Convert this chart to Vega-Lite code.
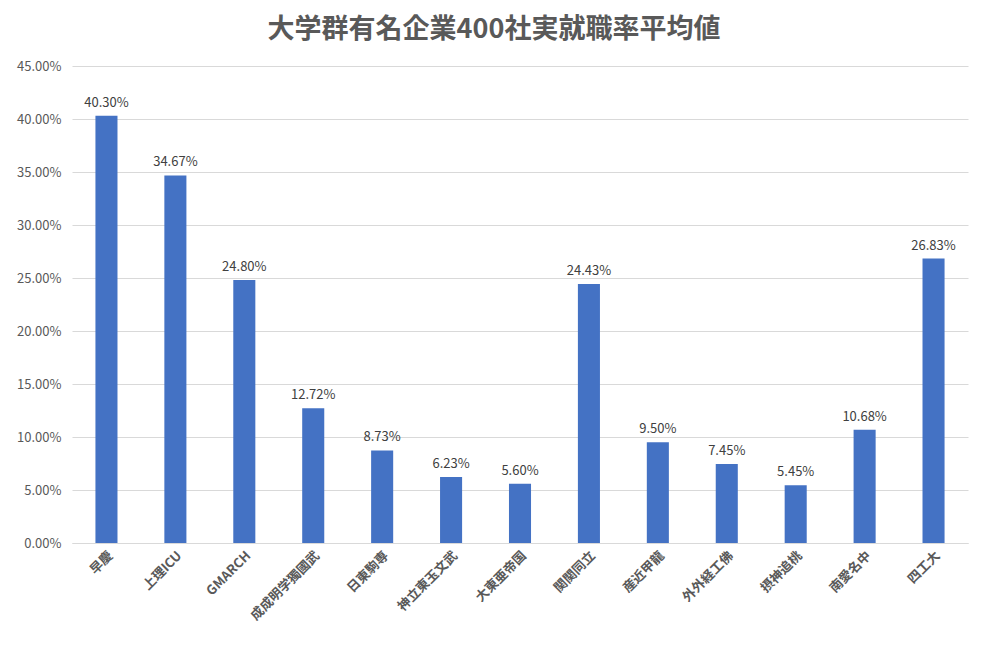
{
  "$schema": "https://vega.github.io/schema/vega-lite/v6.json",
  "autosize": {"type": "none"},
  "padding": {"left": 72, "top": 66, "right": 19, "bottom": 105},
  "width": 896,
  "height": 477,
  "background": "#ffffff",
  "title": {
    "text": "大学群有名企業400社実就職率平均値",
    "font": "Noto Sans CJK JP",
    "fontSize": 27,
    "fontWeight": "bold",
    "color": "#595959",
    "anchor": "middle",
    "dx": -26,
    "offset": 16
  },
  "config": {
    "font": "Noto Sans CJK JP",
    "view": {"stroke": null},
    "axisY": {
      "labelColor": "#595959",
      "labelFontSize": 13,
      "labelPadding": 11,
      "gridColor": "#d9d9d9",
      "domain": false,
      "ticks": false,
      "title": null
    },
    "axisX": {
      "labelColor": "#595959",
      "labelFontSize": 13,
      "labelFontWeight": "bold",
      "labelAngle": -45,
      "labelPadding": 6,
      "domainColor": "#d9d9d9",
      "ticks": false,
      "title": null
    }
  },
  "data": {
    "values": [
      {"group": "早慶", "rate": 0.4030},
      {"group": "上理ICU", "rate": 0.3467},
      {"group": "GMARCH", "rate": 0.2480},
      {"group": "成成明学獨國武", "rate": 0.1272},
      {"group": "日東駒専", "rate": 0.0873},
      {"group": "神立東玉文武", "rate": 0.0623},
      {"group": "大東亜帝国", "rate": 0.0560},
      {"group": "関関同立", "rate": 0.2443},
      {"group": "産近甲龍", "rate": 0.0950},
      {"group": "外外経工佛", "rate": 0.0745},
      {"group": "摂神追桃", "rate": 0.0545},
      {"group": "南愛名中", "rate": 0.1068},
      {"group": "四工大", "rate": 0.2683}
    ]
  },
  "encoding": {
    "x": {
      "field": "group",
      "type": "nominal",
      "sort": null,
      "scale": {"paddingInner": 0.68, "paddingOuter": 0.34}
    },
    "y": {
      "field": "rate",
      "type": "quantitative",
      "scale": {"domain": [0, 0.45], "nice": false},
      "axis": {"values": [0, 0.05, 0.1, 0.15, 0.2, 0.25, 0.3, 0.35, 0.4, 0.45], "format": ".2%"}
    }
  },
  "layer": [
    {
      "mark": {"type": "bar", "color": "#4472c4"}
    },
    {
      "mark": {"type": "text", "baseline": "bottom", "dy": -6, "fontSize": 13, "color": "#404040"},
      "encoding": {
        "text": {"field": "rate", "type": "quantitative", "format": ".2%"}
      }
    }
  ]
}
